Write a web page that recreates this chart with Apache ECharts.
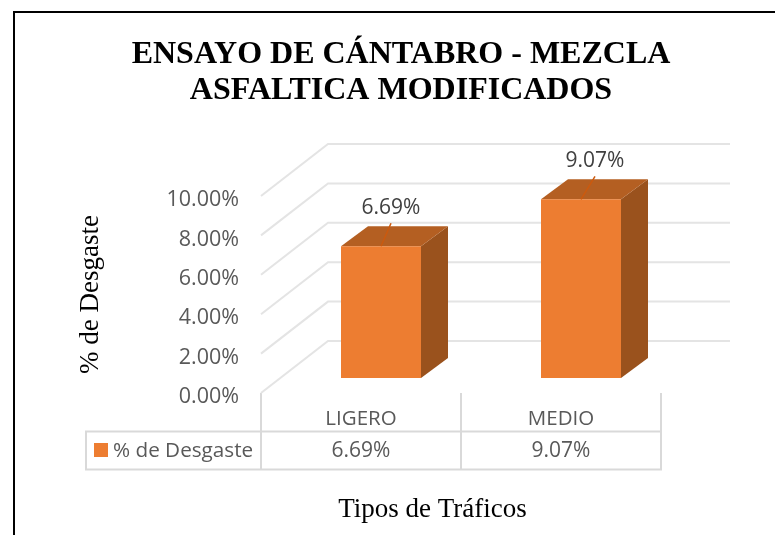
<!DOCTYPE html>
<html>
<head>
<meta charset="utf-8">
<style>
  html, body { margin: 0; padding: 0; background: #fff; }
  #chart { width: 775px; height: 535px; }
</style>
<script src="https://cdn.jsdelivr.net/npm/echarts@6/dist/echarts.min.js"></script>
</head>
<body>
<div id="chart"></div>
<script>
var categories = ['LIGERO', 'MEDIO'];
var values = [6.69, 9.07];
var valueLabels = ['6.69%', '9.07%'];
var ticks = [0, 2, 4, 6, 8, 10];
var seriesName = '% de Desgaste';
var titleLines = 'ENSAYO DE CÁNTABRO - MEZCLA\nASFALTICA MODIFICADOS';

var chart = echarts.init(document.getElementById('chart'), null, { renderer: 'canvas' });

var sans = '"Open Sans", "Noto Sans", sans-serif';
var serif = '"Liberation Serif", serif';
var gridColor = '#e4e4e4';
var tableColor = '#d9d9d9';

// depth of the fake 3d box
var wallDx = 67, wallDy = -52;
var barW = 80, barDx = 27, barDy = -20, barFrontDx = 20, barFrontDy = -15;
var leaderDx = [10, 14];

function wallItem(params, api) {
  var v = api.value(0);
  var p = api.coord([0, v]);
  var band = api.size([1, 0])[0];
  var left = p[0] - band / 2;
  var right = left + band * 2;
  return {
    type: 'polyline',
    shape: { points: [[left, p[1]], [left + wallDx, p[1] + wallDy], [right + wallDx + 2, p[1] + wallDy]] },
    style: { stroke: gridColor, lineWidth: 2, fill: null }
  };
}

function barItem(params, api) {
  var top = api.coord([api.value(0), api.value(1)]);
  var base = api.coord([api.value(0), 0]);
  var x0 = top[0] - barW / 2 + barFrontDx, x1 = x0 + barW;
  var yT = top[1] + barFrontDy, yB = base[1] + barFrontDy;
  var midX = x0 + barW / 2;
  var lx = midX + leaderDx[params.dataIndex];
  return {
    type: 'group',
    children: [
      { type: 'polygon', shape: { points: [[x1, yT], [x1 + barDx, yT + barDy], [x1 + barDx, yB + barDy], [x1, yB]] }, style: { fill: '#9a521d' } },
      { type: 'polygon', shape: { points: [[x0, yT], [x0 + barDx, yT + barDy], [x1 + barDx, yT + barDy], [x1, yT]] }, style: { fill: '#b45f22' } },
      { type: 'rect', shape: { x: x0, y: yT, width: barW, height: yB - yT }, style: { fill: '#ed7d31' } },
      { type: 'line', shape: { x1: midX, y1: yT, x2: lx, y2: yT - 23 }, style: { stroke: '#cc5a0e', lineWidth: 1.5 } },
      { type: 'text', x: lx, y: yT - 38, style: { text: valueLabels[params.dataIndex], font: '21px ' + sans, fill: '#404040', align: 'center', verticalAlign: 'middle' } }
    ]
  };
}

chart.setOption({
  animation: false,
  backgroundColor: '#fff',
  title: {
    text: titleLines,
    left: 396, top: 32, textAlign: 'center',
    textStyle: { fontFamily: serif, fontWeight: 'bold', fontSize: 32, lineHeight: 36, color: '#000' }
  },
  grid: { left: 261, top: 196, width: 400, height: 197 },
  xAxis: {
    type: 'category',
    data: categories,
    boundaryGap: true,
    axisLine: { show: false },
    axisTick: { show: false },
    axisLabel: { color: '#595959', fontFamily: sans, fontSize: 20.5, margin: 16 }
  },
  yAxis: {
    type: 'value',
    min: 0, max: 10, interval: 2,
    axisLine: { show: false },
    axisTick: { show: false },
    splitLine: { show: false },
    axisLabel: {
      margin: 22,
      formatter: function (v) { return '{t|' + v.toFixed(2) + '%}'; },
      rich: { t: { color: '#595959', fontFamily: sans, fontSize: 21.5, padding: [8, 0, 0, 0] } }
    },
    name: seriesName,
    nameLocation: 'middle',
    nameGap: 157,
    nameTextStyle: { fontFamily: serif, fontSize: 27, color: '#000' }
  },
  series: [
    { type: 'custom', name: 'wall', silent: true, data: ticks.map(function (t) { return [t]; }), encode: { y: 0 }, renderItem: wallItem, clip: false, z: 1 },
    { type: 'custom', name: seriesName, data: values.map(function (v, i) { return [i, v]; }), encode: { x: 0, y: 1 }, renderItem: barItem, clip: false, z: 3 }
  ],
  graphic: [
    // page frame, only left and top are in the picture
    { type: 'polyline', shape: { points: [[14, 535], [14, 12], [775, 12]] }, style: { stroke: '#000', lineWidth: 2, fill: null } },
    // data table
    { type: 'rect', shape: { x: 86, y: 431.5, width: 575, height: 38 }, style: { stroke: tableColor, lineWidth: 2, fill: null } },
    { type: 'line', shape: { x1: 261, y1: 393, x2: 261, y2: 469 }, style: { stroke: tableColor, lineWidth: 2 } },
    { type: 'line', shape: { x1: 461, y1: 393, x2: 461, y2: 469 }, style: { stroke: tableColor, lineWidth: 2 } },
    { type: 'line', shape: { x1: 661, y1: 393, x2: 661, y2: 469 }, style: { stroke: tableColor, lineWidth: 2 } },
    { type: 'rect', shape: { x: 94, y: 443, width: 14, height: 14 }, style: { fill: '#ed7d31' } },
    { type: 'text', x: 113, y: 451, style: { text: seriesName, font: '20.7px ' + sans, fill: '#595959', verticalAlign: 'middle' } },
    { type: 'text', x: 361, y: 451, style: { text: valueLabels[0], font: '21px ' + sans, fill: '#595959', align: 'center', verticalAlign: 'middle' } },
    { type: 'text', x: 561, y: 451, style: { text: valueLabels[1], font: '21px ' + sans, fill: '#595959', align: 'center', verticalAlign: 'middle' } },
    { type: 'text', x: 432.5, y: 510, style: { text: 'Tipos de Tráficos', font: '27px ' + serif, fill: '#000', align: 'center', verticalAlign: 'middle' } }
  ]
});
</script>
</body>
</html>
